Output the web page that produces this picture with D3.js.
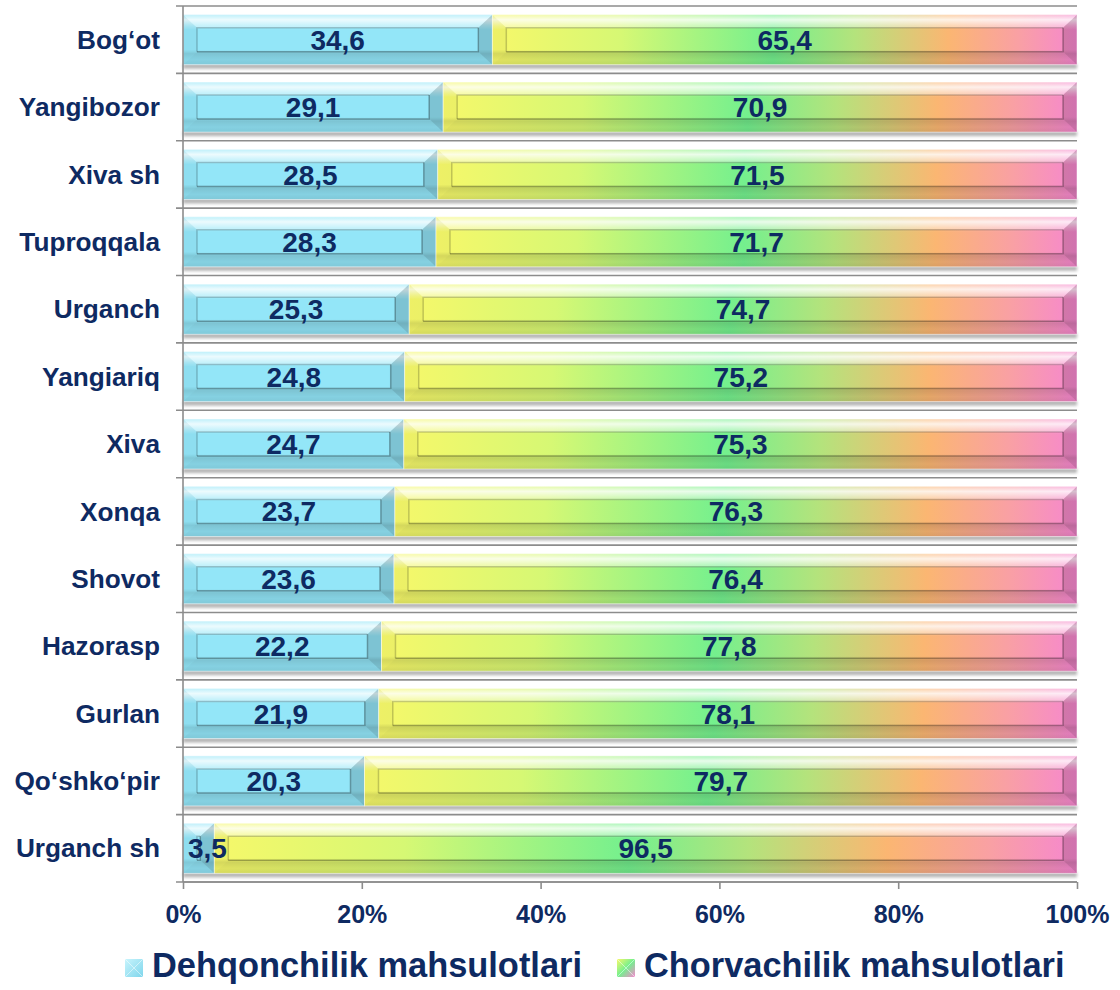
<!DOCTYPE html>
<html>
<head>
<meta charset="utf-8">
<script src="https://cdn.jsdelivr.net/npm/d3@7/dist/d3.min.js"></script>
<style>
  body { margin: 0; background: #fff; }
  svg { display: block; font-family: Arial, 'Liberation Sans', sans-serif; }
</style>
</head>
<body>
<svg id="chart" width="1120" height="990"></svg>
<script>
'use strict';

// data
const categories = ['Bog‘ot', 'Yangibozor', 'Xiva sh', 'Tuproqqala', 'Urganch', 'Yangiariq',
  'Xiva', 'Xonqa', 'Shovot', 'Hazorasp', 'Gurlan', 'Qo‘shko‘pir', 'Urganch sh'];
const dehqonchilik = [34.6, 29.1, 28.5, 28.3, 25.3, 24.8, 24.7, 23.7, 23.6, 22.2, 21.9, 20.3, 3.5];
const chorvachilik = [65.4, 70.9, 71.5, 71.7, 74.7, 75.2, 75.3, 76.3, 76.4, 77.8, 78.1, 79.7, 96.5];
const seriesNames = ['Dehqonchilik mahsulotlari', 'Chorvachilik mahsulotlari'];
const xTicks = [0, 20, 40, 60, 80, 100];

const navy = '#0e2a62';
const gridColor = '#8c8c8c';
const margin = { top: 6, right: 43, bottom: 108, left: 183 };
const width = 1120 - margin.left - margin.right;
const height = 990 - margin.top - margin.bottom;

const svg = d3.select('#chart');
const defs = svg.append('defs');

// gradient for the second series (per bar)
const grad = defs.append('linearGradient').attr('id', 'rainbow')
  .attr('x1', 0).attr('x2', 1).attr('y1', 0).attr('y2', 0);
[[0, '#f6f86a'], [0.22, '#d6f874'], [0.48, '#74f08e'], [0.62, '#b4e37c'],
 [0.78, '#fbb672'], [0.9, '#f9a0a4'], [1, '#f687cf']].forEach(function(s) {
  grad.append('stop').attr('offset', s[0]).attr('stop-color', s[1]);
});

// glossy vertical overlay
const gloss = defs.append('linearGradient').attr('id', 'gloss')
  .attr('x1', 0).attr('x2', 0).attr('y1', 0).attr('y2', 1);
[[0, '#fff', 0.15], [0.1, '#fff', 0.75], [0.22, '#fff', 0.25], [0.3, '#fff', 0],
 [0.7, '#000', 0], [0.78, '#000', 0.1], [0.9, '#000', 0.04], [1, '#000', 0.08]].forEach(function(s) {
  gloss.append('stop').attr('offset', s[0]).attr('stop-color', s[1]).attr('stop-opacity', s[2]);
});

defs.append('filter').attr('id', 'blur').attr('x', -0.1).attr('y', -1).attr('width', 1.2).attr('height', 3)
  .append('feGaussianBlur').attr('stdDeviation', 1.5);

// legend swatch gradients
const sw1 = defs.append('linearGradient').attr('id', 'sw1').attr('x1', 0).attr('x2', 1).attr('y1', 0).attr('y2', 1);
sw1.append('stop').attr('offset', 0).attr('stop-color', '#c8f4fc');
sw1.append('stop').attr('offset', 1).attr('stop-color', '#7fd6ec');
const sw2 = defs.append('linearGradient').attr('id', 'sw2').attr('x1', 0).attr('x2', 1).attr('y1', 0).attr('y2', 1);
sw2.append('stop').attr('offset', 0).attr('stop-color', '#f6f86a');
sw2.append('stop').attr('offset', 0.5).attr('stop-color', '#74f08e');
sw2.append('stop').attr('offset', 1).attr('stop-color', '#f687cf');

const g = svg.append('g').attr('transform', 'translate(' + margin.left + ',' + margin.top + ')');

const x = d3.scaleLinear().domain([0, 100]).range([0, width]);
const y = d3.scaleBand().domain(categories).range([0, height]).paddingInner(0.258).paddingOuter(0.129);
const step = y.step();

// horizontal separators at category boundaries
const bounds = d3.range(categories.length + 1).map(function(i) { return i * step; });
g.selectAll('.sep').data(bounds).enter().append('line')
  .attr('x1', -7).attr('x2', width)
  .attr('y1', function(d) { return d; }).attr('y2', function(d) { return d; })
  .attr('stroke', gridColor).attr('stroke-width', 1.6);

// stacked segments
const rows = categories.map(function(c, i) {
  return [
    { cat: c, s: 0, x0: 0, x1: dehqonchilik[i], v: dehqonchilik[i] },
    { cat: c, s: 1, x0: dehqonchilik[i], x1: dehqonchilik[i] + chorvachilik[i], v: chorvachilik[i] }
  ];
});

const barH = y.bandwidth();

// shadows
g.selectAll('.shadow').data(categories).enter().append('rect')
  .attr('x', 0).attr('width', width)
  .attr('y', function(d) { return y(d) + barH - 1; }).attr('height', 5)
  .attr('fill', '#777').attr('opacity', 0.55).attr('filter', 'url(#blur)');

const seg = g.selectAll('.seg').data(rows.flat()).enter().append('g').attr('class', 'seg');

seg.each(function(d) {
  const el = d3.select(this);
  const x0 = x(d.x0), x1 = x(d.x1), w = x1 - x0;
  const y0 = y(d.cat), y1 = y0 + barH;
  const ix = Math.min(14, w / 2), iy = 13;
  el.append('rect').attr('x', x0).attr('y', y0).attr('width', w).attr('height', barH)
    .attr('fill', d.s === 0 ? '#93e6f8' : 'url(#rainbow)');
  el.append('rect').attr('x', x0).attr('y', y0).attr('width', w).attr('height', barH)
    .attr('fill', 'url(#gloss)');
  const pts = function(arr) { return arr.map(function(p) { return p.join(','); }).join(' '); };
  const a = [x0, y0], b = [x1, y0], c = [x1, y1], e = [x0, y1];
  const ia = [x0 + ix, y0 + iy], ib = [x1 - ix, y0 + iy], ic = [x1 - ix, y1 - iy], ie = [x0 + ix, y1 - iy];
  // bevel faces
  el.append('polygon').attr('points', pts([a, b, ib, ia])).attr('fill', '#fff').attr('opacity', 0.3);
  el.append('polygon').attr('points', pts([e, c, ic, ie])).attr('fill', '#000').attr('opacity', 0.05);
  el.append('polygon').attr('points', pts([a, ia, ie, e])).attr('fill', '#000').attr('opacity', 0.03);
  el.append('polygon').attr('points', pts([b, c, ic, ib])).attr('fill', '#000').attr('opacity', 0.15);
  if (w > 2 * ix + 1) {
    el.append('path')
      .attr('d', 'M' + ie.join(',') + 'L' + ia.join(',') + 'L' + ib.join(','))
      .attr('fill', 'none').attr('stroke', '#000').attr('stroke-opacity', 0.2).attr('stroke-width', 1.5);
    el.append('path')
      .attr('d', 'M' + ib.join(',') + 'L' + ic.join(',') + 'L' + ie.join(','))
      .attr('fill', 'none').attr('stroke', '#000').attr('stroke-opacity', 0.3).attr('stroke-width', 1.5);
  }
  el.append('rect').attr('x', x0).attr('y', y0).attr('width', w).attr('height', barH)
    .attr('fill', 'none').attr('stroke', '#fff').attr('stroke-opacity', 0.6).attr('stroke-width', 0.8);
});

// value labels, drawn on top of all segments
g.append('g').selectAll('text').data(rows.flat()).enter().append('text')
  .attr('x', function(d) {
    const cx = (x(d.x0) + x(d.x1)) / 2;
    const tw = 28 * 1.39;
    return Math.max(cx, x(d.x0) + 5 + tw / 2);
  })
  .attr('y', function(d) { return y(d.cat) + barH / 2; })
  .attr('dy', '0.36em')
  .attr('text-anchor', 'middle')
  .attr('fill', navy)
  .style('font-size', '28px').style('font-weight', 'bold')
  .text(function(d) { return d.v.toFixed(1).replace('.', ','); });

// axes
g.append('line').attr('x1', 0).attr('x2', 0).attr('y1', 0).attr('y2', height)
  .attr('stroke', gridColor).attr('stroke-width', 1.6);
g.append('line').attr('x1', 0).attr('x2', width).attr('y1', height).attr('y2', height)
  .attr('stroke', gridColor).attr('stroke-width', 1.6);

const xAxis = d3.axisBottom(x).tickValues(xTicks).tickSize(7)
  .tickFormat(function(d) { return d + '%'; });
g.append('g').attr('transform', 'translate(0,' + height + ')').call(xAxis)
  .call(function(a) {
    a.select('.domain').remove();
    a.selectAll('line').attr('stroke', gridColor).attr('stroke-width', 1.6);
    a.selectAll('text').attr('fill', navy).attr('y', 23)
      .style('font-size', '25px').style('font-weight', 'bold').style('font-family', 'Arial, Liberation Sans, sans-serif');
  });

const yAxis = d3.axisLeft(y).tickSize(0).tickPadding(23);
g.append('g').call(yAxis)
  .call(function(a) {
    a.select('.domain').remove();
    a.selectAll('text').attr('fill', navy).attr('dy', '0.35em')
      .style('font-size', '26.2px').style('font-weight', 'bold').style('font-family', 'Arial, Liberation Sans, sans-serif');
  });

// legend
const legendX = [125, 617];
const legend = svg.selectAll('.legend').data(seriesNames).enter().append('g')
  .attr('transform', function(d, i) { return 'translate(' + legendX[i] + ',959)'; });
legend.append('rect').attr('width', 18).attr('height', 18)
  .attr('fill', function(d, i) { return i === 0 ? 'url(#sw1)' : 'url(#sw2)'; });
legend.append('path').attr('d', 'M0,0L18,18M18,0L0,18').attr('stroke', '#fff').attr('stroke-opacity', 0.5);
legend.append('text').attr('x', 27).attr('y', 18)
  .attr('fill', navy).style('font-size', '34.4px').style('font-weight', 'bold')
  .text(function(d) { return d; });
</script>
</body>
</html>
